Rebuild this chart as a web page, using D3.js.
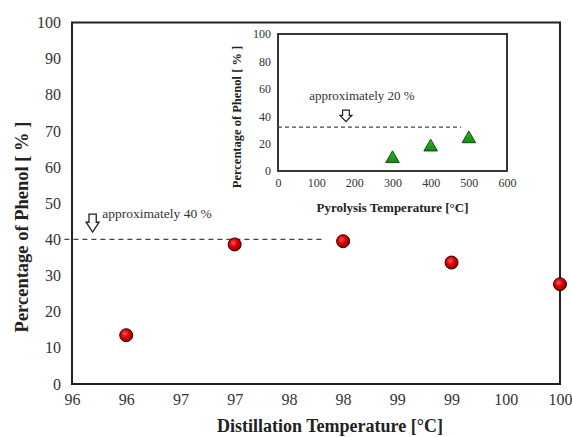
<!DOCTYPE html>
<html>
<head>
<meta charset="utf-8">
<script src="https://cdn.jsdelivr.net/npm/d3@7"></script>
<style>
  body { margin: 0; background: #fff; }
  svg, svg text { font-family: "Liberation Serif", "Times New Roman", serif; }
</style>
</head>
<body>
<div id="chart"></div>
<script>
// main chart data
var distTemp = [96, 97, 98, 99, 100];
var distPhenol = [13.5, 38.6, 39.5, 33.6, 27.6];
var distTicks = [95.5, 96, 96.5, 97, 97.5, 98, 98.5, 99, 99.5, 100];
var mainYTicks = [0, 10, 20, 30, 40, 50, 60, 70, 80, 90, 100];

// inset data
var pyroTemp = [300, 400, 500];
var pyroPhenol = [9, 17.5, 23.5];
var insetXTicks = [0, 100, 200, 300, 400, 500, 600];
var insetYTicks = [0, 20, 40, 60, 80, 100];

// annotations (data units)
var mainRef = {y: 40, x0: 95.43, x1: 97.83, arrowX: 95.69, arrowTop: 47, arrowTip: 42, label: "approximately 40 %", labelX: 95.78, labelY: 46};
var insetRef = {y: 32, x0: 0, x1: 480, arrowX: 178, arrowTop: 44.5, arrowTip: 36, label: "approximately 20 %", labelX: 220, labelY: 52};

var serif = "Liberation Serif, Times New Roman, serif";

var W = 572, H = 437;
var svg = d3.select("#chart").append("svg")
    .attr("width", W)
    .attr("height", H)
    .attr("font-family", serif);

var defs = svg.append("defs");
var grad = defs.append("radialGradient")
    .attr("id", "ball")
    .attr("cx", "40%").attr("cy", "38%").attr("r", "65%");
grad.append("stop").attr("offset", "0%").attr("stop-color", "#ff5a5a");
grad.append("stop").attr("offset", "45%").attr("stop-color", "#e00000");
grad.append("stop").attr("offset", "100%").attr("stop-color", "#8a0000");

var tri = defs.append("linearGradient")
    .attr("id", "tri").attr("x1", 0).attr("y1", 0).attr("x2", 0).attr("y2", 1);
tri.append("stop").attr("offset", "0%").attr("stop-color", "#2dbb2d");
tri.append("stop").attr("offset", "100%").attr("stop-color", "#0f8a0f");

// hollow down arrow
function arrowPath(cx, top, tip, w) {
    var s = w * 0.28, headTop = top + (tip - top) * 0.45;
    return "M" + (cx - s) + "," + top + "L" + (cx + s) + "," + top +
        "L" + (cx + s) + "," + headTop + "L" + (cx + w / 2) + "," + headTop +
        "L" + cx + "," + tip + "L" + (cx - w / 2) + "," + headTop +
        "L" + (cx - s) + "," + headTop + "Z";
}

function styleAxis(g, size) {
    g.select(".domain").remove();
    g.attr("font-family", serif).attr("font-size", size);
    g.selectAll("text")
        .attr("font-family", serif)
        .attr("fill", "#333");
}

// ---------- main chart ----------
var x = d3.scaleLinear().domain([95.5, 100]).range([72, 560]);
var y = d3.scaleLinear().domain([0, 100]).range([384, 22.5]);

var main = svg.append("g");

var yAxis = d3.axisLeft(y).tickValues(mainYTicks).tickSize(0).tickPadding(11);
var gy = main.append("g").attr("transform", "translate(72,0)").call(yAxis);
styleAxis(gy, 16);

var xAxis = d3.axisBottom(x).tickValues(distTicks).tickSize(0).tickPadding(10)
    .tickFormat(function(d) { return Math.round(d + 0.001); });
var gx = main.append("g").attr("transform", "translate(0,384)").call(xAxis);
styleAxis(gx, 16);

main.append("rect")
    .attr("x", x(95.5)).attr("y", y(100))
    .attr("width", x(100) - x(95.5)).attr("height", y(0) - y(100))
    .attr("fill", "none").attr("stroke", "#222").attr("stroke-width", 2);

main.append("line")
    .attr("x1", x(mainRef.x0)).attr("x2", x(mainRef.x1))
    .attr("y1", y(mainRef.y)).attr("y2", y(mainRef.y))
    .attr("stroke", "#444").attr("stroke-width", 1.3)
    .attr("stroke-dasharray", "5,4");

main.append("path")
    .attr("d", arrowPath(x(mainRef.arrowX), y(mainRef.arrowTop), y(mainRef.arrowTip), 13))
    .attr("fill", "#fff").attr("stroke", "#222").attr("stroke-width", 1.3);

main.append("text")
    .attr("x", x(mainRef.labelX)).attr("y", y(mainRef.labelY))
    .attr("font-size", 13.5).attr("fill", "#333")
    .text(mainRef.label);

main.selectAll("circle.pt")
    .data(distTemp)
    .enter().append("circle")
    .attr("class", "pt")
    .attr("cx", function(d) { return x(d); })
    .attr("cy", function(d, i) { return y(distPhenol[i]); })
    .attr("r", 6.5)
    .attr("fill", "url(#ball)")
    .attr("stroke", "#3a0000").attr("stroke-width", 1);

svg.append("text")
    .attr("transform", "translate(28,227) rotate(-90)")
    .attr("text-anchor", "middle")
    .attr("font-size", 18.5).attr("font-weight", "bold").attr("fill", "#222")
    .text("Percentage of Phenol [ % ]");

svg.append("text")
    .attr("x", 330).attr("y", 432)
    .attr("text-anchor", "middle")
    .attr("font-size", 18).attr("font-weight", "bold").attr("fill", "#222")
    .text("Distillation Temperature [°C]");

// ---------- inset ----------
var ix = d3.scaleLinear().domain([0, 600]).range([278, 507]);
var iy = d3.scaleLinear().domain([0, 100]).range([171, 34]);

var inset = svg.append("g");

var iyAxis = d3.axisLeft(iy).tickValues(insetYTicks).tickSize(0).tickPadding(7);
var giy = inset.append("g").attr("transform", "translate(278,0)").call(iyAxis);
styleAxis(giy, 12);

var ixAxis = d3.axisBottom(ix).tickValues(insetXTicks).tickSize(0).tickPadding(7);
var gix = inset.append("g").attr("transform", "translate(0,171)").call(ixAxis);
styleAxis(gix, 12);

inset.append("rect")
    .attr("x", ix(0)).attr("y", iy(100))
    .attr("width", ix(600) - ix(0)).attr("height", iy(0) - iy(100))
    .attr("fill", "none").attr("stroke", "#222").attr("stroke-width", 1.8);

inset.append("line")
    .attr("x1", ix(insetRef.x0)).attr("x2", ix(insetRef.x1))
    .attr("y1", iy(insetRef.y)).attr("y2", iy(insetRef.y))
    .attr("stroke", "#444").attr("stroke-width", 1.2)
    .attr("stroke-dasharray", "4,3");

inset.append("path")
    .attr("d", arrowPath(ix(insetRef.arrowX), iy(insetRef.arrowTop), iy(insetRef.arrowTip), 12))
    .attr("fill", "#fff").attr("stroke", "#222").attr("stroke-width", 1.2);

inset.append("text")
    .attr("x", ix(insetRef.labelX)).attr("y", iy(insetRef.labelY))
    .attr("text-anchor", "middle")
    .attr("font-size", 13).attr("fill", "#333")
    .text(insetRef.label);

inset.selectAll("path.tri")
    .data(pyroTemp)
    .enter().append("path")
    .attr("class", "tri")
    .attr("d", d3.symbol().type(d3.symbolTriangle).size(80))
    .attr("transform", function(d, i) { return "translate(" + ix(d) + "," + iy(pyroPhenol[i]) + ")"; })
    .attr("fill", "url(#tri)")
    .attr("stroke", "#0a3d0a").attr("stroke-width", 0.9);

inset.append("text")
    .attr("transform", "translate(241,117) rotate(-90)")
    .attr("text-anchor", "middle")
    .attr("font-size", 12.5).attr("font-weight", "bold").attr("fill", "#222")
    .text("Percentage of Phenol [ % ]");

inset.append("text")
    .attr("x", ix(300)).attr("y", 212)
    .attr("text-anchor", "middle")
    .attr("font-size", 13).attr("font-weight", "bold").attr("fill", "#222")
    .text("Pyrolysis Temperature [°C]");
</script>
</body>
</html>
